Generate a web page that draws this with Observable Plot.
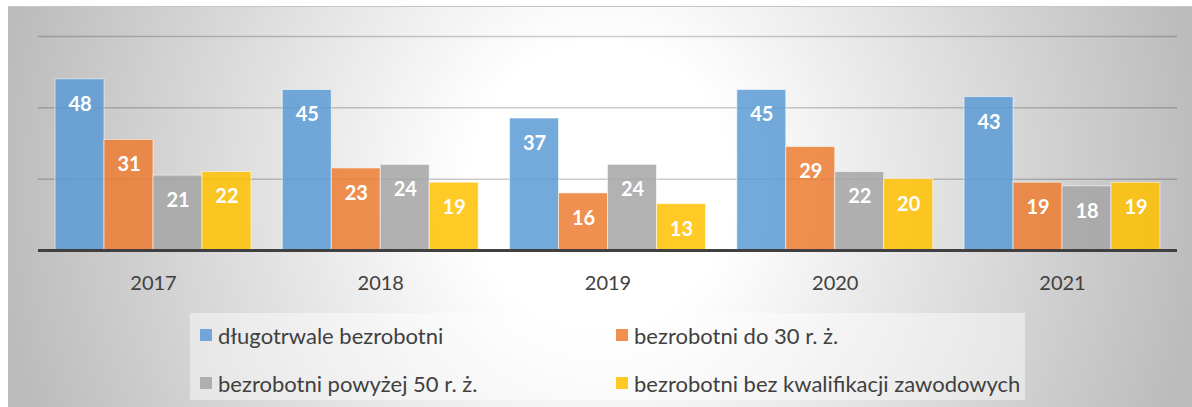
<!DOCTYPE html>
<html><head><meta charset="utf-8">
<script src="https://cdn.jsdelivr.net/npm/d3@7"></script>
<script src="https://cdn.jsdelivr.net/npm/@observablehq/plot@0.6"></script>
<style>
body{margin:0;background:#fff;}
#wrap{position:relative;width:1192px;height:407px;overflow:hidden;font-family:Lato,sans-serif;}
#bg{position:absolute;left:8px;top:6px;right:0;bottom:0;border-top:1px solid #c6c6c6;
  background:radial-gradient(ellipse 600px 650px at 592px 180px, #ffffff 0%, #ffffff 22%, #bcbcbc 100%);}
.layer{position:absolute;left:0;top:0;}
#legend{position:absolute;left:190px;top:313px;width:835px;height:87px;background:rgba(255,255,255,0.45);}
.item{position:absolute;height:24px;display:flex;align-items:center;font-size:22px;color:#404040;white-space:nowrap;}
.sw{display:inline-block;width:12px;height:12px;margin-right:6px;}
</style>
</head><body>
<div id="wrap"><div id="bg"></div><div id="under" class="layer"></div><div id="chart" class="layer"></div><div id="over" class="layer"></div><div id="legend"></div></div>
<script>
const years = ["2017","2018","2019","2020","2021"];
const seriesNames = ["długotrwale bezrobotni","bezrobotni do 30 r. ż.","bezrobotni powyżej 50 r. ż.","bezrobotni bez kwalifikacji zawodowych"];
const seriesColors = ["#5B9BD5","#ED7D31","#A5A5A5","#FFC000"];
const dlugotrwale = [48,45,37,45,43];
const do30 = [31,23,16,29,19];
const powyzej50 = [21,24,24,22,18];
const bezKwalifikacji = [22,19,13,20,19];
const gridValues = [20,40,60];
const baseValue = [0];

const allValues = [dlugotrwale, do30, powyzej50, bezKwalifikacji];
const data = [];
years.forEach((y,i)=>allValues.forEach((arr,s)=>data.push({year:y, series:seriesNames[s], value:arr[i]})));

const frame = {
  width:1192, height:300,
  marginLeft:38, marginRight:15, marginTop:36, marginBottom:50,
  style:{background:"transparent", fontFamily:"Lato, sans-serif", color:"#404040"},
  y:{domain:[0,60], axis:null}
};

const under = Plot.plot({...frame, marks:[
  Plot.ruleY(gridValues,{stroke:"#000", strokeOpacity:0.2, strokeWidth:1.5})
]});
document.getElementById("under").appendChild(under);

const chart = Plot.plot({
  ...frame,
  fx:{domain:years, paddingInner:0.138, paddingOuter:0.075, round:false, label:null, axis:null},
  x:{domain:seriesNames, axis:null, padding:0, round:false},
  color:{domain:seriesNames, range:seriesColors},
  marks:[
    Plot.axisFx({anchor:"bottom", tickSize:0, tickPadding:25, fontSize:20, fill:"#404040", label:null}),
    Plot.barY(data,{fx:"year", x:"series", y:"value", fill:"series", fillOpacity:0.85, stroke:"#fff", strokeOpacity:0.55, strokeWidth:1}),
    Plot.text(data,{fx:"year", x:"series", y:"value", text:d=>String(d.value), dy:25, fill:"#fff", fontWeight:"bold", fontSize:20})
  ]
});
document.getElementById("chart").appendChild(chart);

const over = Plot.plot({...frame, marks:[
  Plot.ruleY(baseValue,{stroke:"#404040", strokeWidth:3})
]});
document.getElementById("over").appendChild(over);

const legend = document.getElementById("legend");
const pos = [[10,10],[426,10],[10,58],[426,58]];
seriesNames.forEach((n,i)=>{
  const d = document.createElement("div");
  d.className="item";
  d.style.left=pos[i][0]+"px"; d.style.top=pos[i][1]+"px";
  d.innerHTML=`<span class="sw" style="background:${seriesColors[i]};opacity:0.85"></span>${n}`;
  legend.appendChild(d);
});
</script>
</body></html>
